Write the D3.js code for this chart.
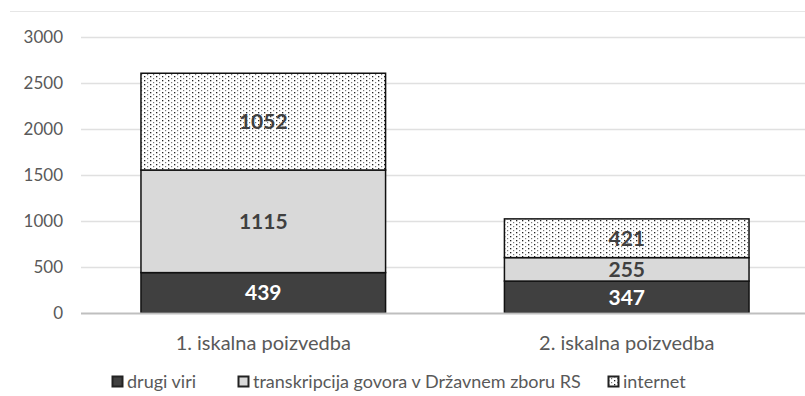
<!DOCTYPE html>
<html lang="sl">
<head>
<meta charset="UTF-8">
<title>Iskalne poizvedbe</title>
<script src="https://d3js.org/d3.v7.min.js"></script>
<style>
    body { margin: 0; background: #fff; }
    text { font-family: Lato, "Open Sans", sans-serif; }
</style>
</head>
<body>
<div id="chart"></div>
<script>
    // data
    var categories = ["1. iskalna poizvedba", "2. iskalna poizvedba"];
    var seriesNames = ["drugi viri", "transkripcija govora v Državnem zboru RS", "internet"];
    var drugiViri = [439, 347];
    var transkripcija = [1115, 255];
    var internet = [1052, 421];
    var yTicks = [0, 500, 1000, 1500, 2000, 2500, 3000];

    var W = 805, H = 396;
    var plotLeft = 81, plotTop = 37, plotBottom = 313;

    var svg = d3.select("#chart").append("svg")
        .attr("width", W)
        .attr("height", H);

    // dotted fill for "internet"
    var defs = svg.append("defs");
    var pat = defs.append("pattern")
        .attr("id", "dots")
        .attr("patternUnits", "userSpaceOnUse")
        .attr("width", 6)
        .attr("height", 4);
    pat.append("rect").attr("width", 6).attr("height", 4).attr("fill", "#fff");
    pat.append("rect").attr("x", 0).attr("y", 0).attr("width", 1.3).attr("height", 1.3).attr("fill", "#222");
    pat.append("rect").attr("x", 3).attr("y", 2).attr("width", 1.2).attr("height", 1.2).attr("fill", "#777");

    var fills = ["#404040", "#d9d9d9", "url(#dots)"];
    var labelColors = ["#fff", "#404040", "#404040"];

    // chart frame top line
    svg.append("line")
        .attr("x1", 10).attr("x2", W)
        .attr("y1", 11.5).attr("y2", 11.5)
        .attr("stroke", "#e6e6e6");

    var y = d3.scaleLinear().domain([0, 3000]).range([plotBottom, plotTop]);
    var x = d3.scaleBand().domain(categories).range([plotLeft, 809])
        .paddingInner(0.327).paddingOuter(0.165);

    // grid
    svg.append("g").selectAll("line")
        .data(yTicks.filter(function (d) { return d > 0; }))
        .enter().append("line")
        .attr("x1", plotLeft).attr("x2", W)
        .attr("y1", function (d) { return y(d) + 0.5; })
        .attr("y2", function (d) { return y(d) + 0.5; })
        .attr("stroke", "#e0e0e0")
        .attr("stroke-width", 1.5);

    // y labels
    svg.append("g").selectAll("text")
        .data(yTicks)
        .enter().append("text")
        .attr("x", 63)
        .attr("y", function (d) { return y(d); })
        .attr("dy", "0.35em")
        .attr("text-anchor", "end")
        .attr("fill", "#595959")
        .style("font-size", "17px")
        .text(function (d) { return d; });

    // stack
    var rows = categories.map(function (c, i) {
        return { cat: c, s0: drugiViri[i], s1: transkripcija[i], s2: internet[i] };
    });
    var stacked = d3.stack().keys(["s0", "s1", "s2"])(rows);

    stacked.forEach(function (layer, k) {
        var g = svg.append("g");
        g.selectAll("rect")
            .data(layer)
            .enter().append("rect")
            .attr("x", function (d) { return x(d.data.cat); })
            .attr("y", function (d) { return y(d[1]); })
            .attr("width", x.bandwidth())
            .attr("height", function (d) { return y(d[0]) - y(d[1]); })
            .attr("fill", fills[k])
            .attr("stroke", "#111")
            .attr("stroke-width", 1.5);
        g.selectAll("text")
            .data(layer)
            .enter().append("text")
            .attr("x", function (d) { return x(d.data.cat) + x.bandwidth() / 2; })
            .attr("y", function (d) { return (y(d[0]) + y(d[1])) / 2; })
            .attr("dy", "0.36em")
            .attr("text-anchor", "middle")
            .attr("fill", labelColors[k])
            .style("font-size", "21px")
            .style("font-weight", "bold")
            .text(function (d) { return d[1] - d[0]; });
    });

    // zero line
    svg.append("line")
        .attr("x1", plotLeft).attr("x2", W)
        .attr("y1", plotBottom + 0.5).attr("y2", plotBottom + 0.5)
        .attr("stroke", "#bfbfbf")
        .attr("stroke-width", 2);

    // category labels
    svg.append("g").selectAll("text")
        .data(categories)
        .enter().append("text")
        .attr("x", function (d) { return x(d) + x.bandwidth() / 2; })
        .attr("y", 343)
        .attr("dy", "0.35em")
        .attr("text-anchor", "middle")
        .attr("fill", "#595959")
        .style("font-size", "20px")
        .text(function (d) { return d; });

    // legend
    var legendX = [112, 238, 608];
    var legend = svg.append("g").selectAll("g")
        .data(seriesNames)
        .enter().append("g")
        .attr("transform", function (d, i) { return "translate(" + legendX[i] + ",376)"; });
    legend.append("rect")
        .attr("x", 0.5).attr("y", 0.5)
        .attr("width", 10).attr("height", 10)
        .attr("fill", function (d, i) { return fills[i]; })
        .attr("stroke", "#222")
        .attr("stroke-width", 2);
    legend.append("text")
        .attr("x", 15)
        .attr("y", 6)
        .attr("dy", "0.35em")
        .attr("fill", "#595959")
        .style("font-size", "18px")
        .text(function (d) { return d; });
</script>
</body>
</html>
